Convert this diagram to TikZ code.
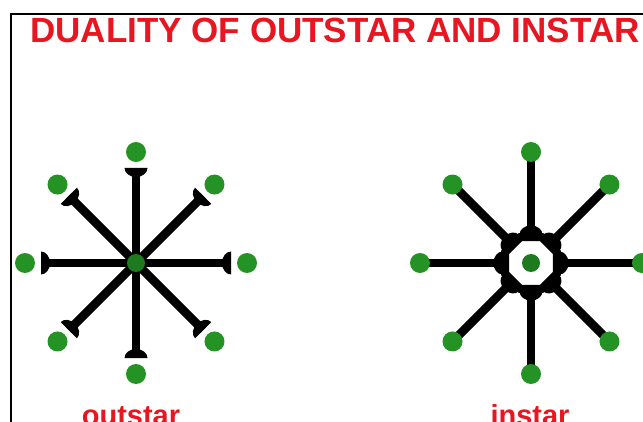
\documentclass[tikz,border=0pt]{standalone}
\usepackage{fontspec}
\setmainfont{Liberation Sans}
\usetikzlibrary{calc,shapes.geometric}
\definecolor{titlered}{RGB}{232,22,32}
\definecolor{dotgreen}{RGB}{36,146,36}
\definecolor{hubgreen}{RGB}{30,122,30}

\begin{document}
\begin{tikzpicture}[x=1pt,y=1pt,
dot/.style={circle,fill=dotgreen,minimum size=20pt,inner sep=0pt},
hub/.style={circle,fill=hubgreen,minimum size=18pt,inner sep=0pt},
spoke/.style={line width=8.5pt},
frame/.style={line width=2pt},
heading/.style={text=titlered,font=\bfseries\fontsize{35}{40}\selectfont,inner sep=0pt,anchor=base},
caption/.style={text=titlered,font=\bfseries\fontsize{29}{34}\selectfont,inner sep=0pt,anchor=base},
spoketip/.pic={\fill (0,-11.5) arc[start angle=-90,end angle=-270,x radius=9,y radius=11.5] -- cycle;}
]
\useasboundingbox (0,0) rectangle (643,421);
\draw[frame] (11,-5) -- (11,407) -- (650,407);
\node[heading] (title) at (335,378) {DUALITY OF OUTSTAR AND INSTAR};

% outstar
\coordinate (oc) at (136,158);
\foreach \a [count=\i] in {0,45,...,315} {
  \node[dot] (od\i) at ($(oc)+(\a:111)$) {};
  \coordinate (ot\i) at ($(oc)+(\a:95)$);
  \draw[spoke] (oc) -- (ot\i);
  \pic[rotate=\a] at (ot\i) {spoketip};
}
\node[hub] (ohub) at (oc) {};
\node[caption] (olabel) at (131,-4) {outstar};

% instar
\coordinate (ic) at (531,158);
\foreach \a [count=\i] in {0,45,...,315} {
  \coordinate (ie\i) at ($(ic)+(\a:111)$);
  \coordinate (it\i) at ($(ic)+(\a:28.5)$);
  \draw[spoke] (ie\i) -- (it\i);
}
\node[regular polygon,regular polygon sides=8,draw,line width=8pt,fill=white,
  minimum size=56pt,inner sep=0pt] (ioct) at (ic) {};
\foreach \a [count=\i] in {0,45,...,315} {
  \pic[rotate=\a+180] at (it\i) {spoketip};
  \node[dot] (id\i) at (ie\i) {};
}
\node[hub] (ihub) at (ic) {};
\node[caption] (ilabel) at (530,-4) {instar};
\end{tikzpicture}
\end{document}
